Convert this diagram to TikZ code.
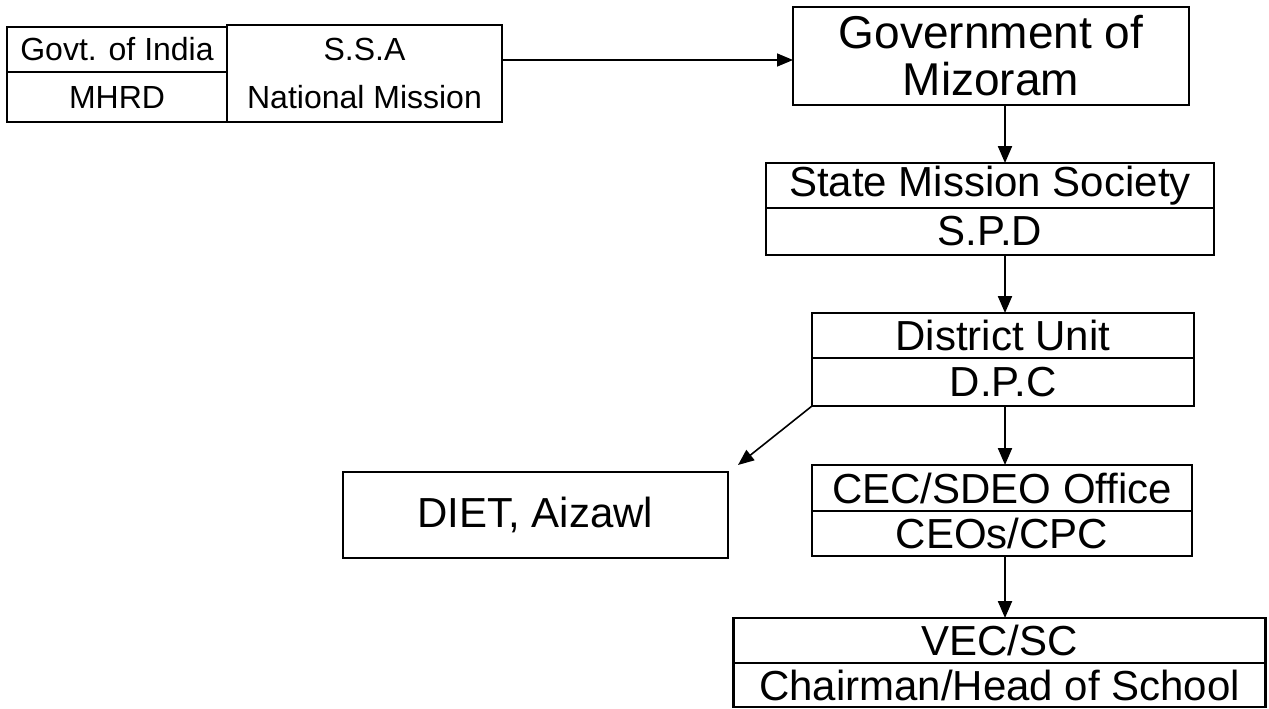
\documentclass[tikz,border=0pt]{standalone}
\usepackage{fontspec}
\setmainfont{Liberation Sans}
\usetikzlibrary{arrows.meta,calc}
\begin{document}
\begin{tikzpicture}[x=1pt,y=-1pt,
  cell/.style={draw,line width=2.4pt,inner sep=0pt,outer sep=0pt,anchor=center,align=center,font=\fontsize{42}{46}\selectfont},
  small/.style={font=\fontsize{32}{48}\selectfont},
  arr/.style={line width=2.2pt,-{Triangle[length=17pt,width=14pt]}},
  thin arr/.style={line width=1.6pt,-{Triangle[length=16pt,width=13pt]}}]
\useasboundingbox (0,0) rectangle (1269,709);
% top-left
\node[cell,small,minimum width=220pt,minimum height=45pt] (gi) at (117,49.5) {Govt. of India};
\node[cell,small,minimum width=220pt,minimum height=50pt] (mhrd) at (117,97) {MHRD};
\node[cell,small,minimum width=275pt,minimum height=97pt] (ssa) at (364.5,73.5) {S.S.A\\National Mission};
% government
\node[cell,minimum width=396pt,minimum height=98pt,font=\fontsize{46}{47}\selectfont] (govm) at (991,56) {Government of\\Mizoram};
% state mission
\node[cell,minimum width=448pt,minimum height=45pt] (sms) at (990,185.5) {State Mission Society};
\node[cell,minimum width=448pt,minimum height=47pt] (spd) at (990,231.5) {S.P.D};
% district
\node[cell,minimum width=382pt,minimum height=45pt] (du) at (1003,335.5) {District Unit};
\node[cell,minimum width=382pt,minimum height=48pt] (dpc) at (1003,382) {D.P.C};
% CEC
\node[cell,minimum width=380pt,minimum height=46pt] (cec) at (1002,488) {CEC/SDEO Office};
\node[cell,minimum width=380pt,minimum height=45pt] (ceo) at (1002,533.5) {CEOs/CPC};
% DIET
\node[cell,minimum width=385pt,minimum height=86pt] (diet) at (535.5,515) {DIET, Aizawl};
% VEC
\node[cell,minimum width=532pt,minimum height=45pt] (vec) at (999.5,640.5) {VEC/SC};
\node[cell,minimum width=532pt,minimum height=44pt] (chair) at (999.5,685) {Chairman/Head of School};
% connectors
\coordinate (ay) at (0,60);
\coordinate (ax) at (1005,0);
\draw[thin arr] (ssa.east |- ay) -- (govm.west |- ay);
\draw[arr] (govm.south -| ax) -- (sms.north -| ax);
\draw[arr] (spd.south -| ax) -- (du.north -| ax);
\draw[arr] (dpc.south -| ax) -- (cec.north -| ax);
\draw[arr] (ceo.south -| ax) -- (vec.north -| ax);
\coordinate (dt) at ([shift={(10,-7)}]diet.north east);
\draw[thin arr] (dpc.south west) -- (dt);
\end{tikzpicture}
\end{document}
